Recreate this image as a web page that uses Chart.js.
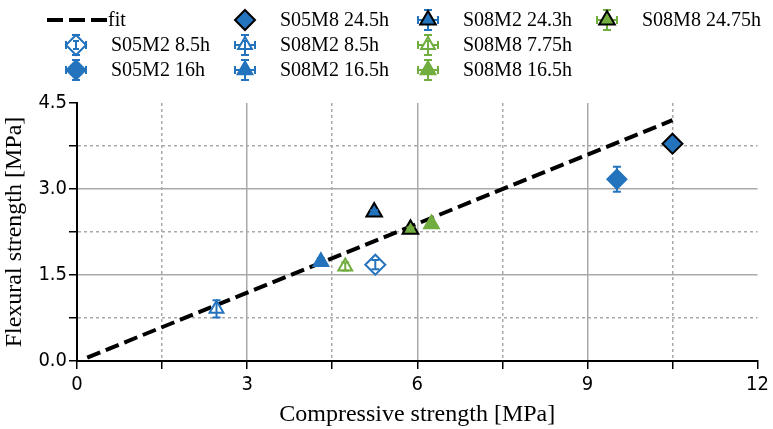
<!DOCTYPE html>
<html>
<head>
<meta charset="utf-8">
<script src="https://cdn.jsdelivr.net/npm/chart.js@4.4.1/dist/chart.umd.min.js"></script>
<style>
  html, body { margin: 0; padding: 0; background: #fff; }
  #wrap { width: 773px; height: 429px; }
</style>
</head>
<body>
<div id="wrap"><canvas id="chart" width="773" height="429"></canvas></div>
<script>
// data
const seriesLabels = ["S05M2 8.5h", "S05M2 16h", "S05M8 24.5h", "S08M2 8.5h", "S08M2 16.5h",
                      "S08M2 24.3h", "S08M8 7.75h", "S08M8 16.5h", "S08M8 24.75h"];
const compressive = [5.26, 9.52, 10.50, 2.46, 4.30, 5.24, 4.73, 6.25, 5.88];
const flexural = [1.68, 3.17, 3.79, 0.91, 1.73, 2.60, 1.65, 2.39, 2.30];
const flexuralErr = [0.08, 0.22, 0, 0.15, 0.06, 0.03, 0.07, 0.04, 0.03];
const fitX = [0.18, 10.5];
const fitY = [0.06, 4.2];
const xTickStep = 1.5, xLabelStep = 3, xMax = 12;
const yTickStep = 0.75, yLabelStep = 1.5, yMax = 4.5;

const BLUE = "#2473bd", GREEN = "#72ad3f";
const markers = [
    { shape: "rectRot", line: BLUE, fill: "#fff", r: 10, err: BLUE },
    { shape: "rectRot", line: BLUE, fill: BLUE, r: 9.5, err: BLUE },
    { shape: "rectRot", line: "#000", fill: BLUE, r: 10, err: BLUE },
    { shape: "triangle", line: BLUE, fill: "#fff", r: 8, err: BLUE },
    { shape: "triangle", line: BLUE, fill: BLUE, r: 8.5, err: BLUE },
    { shape: "triangle", line: "#000", fill: BLUE, r: 9, err: BLUE },
    { shape: "triangle", line: GREEN, fill: "#fff", r: 8, err: GREEN },
    { shape: "triangle", line: GREEN, fill: GREEN, r: 8.5, err: GREEN },
    { shape: "triangle", line: "#000", fill: GREEN, r: 9, err: GREEN },
];

const isMultiple = (v, step) => Math.abs(v / step - Math.round(v / step)) < 1e-6;

function markerPath(ctx, shape, x, y, r) {
    ctx.beginPath();
    if (shape === "rectRot") {
        ctx.moveTo(x, y - r); ctx.lineTo(x + r, y); ctx.lineTo(x, y + r); ctx.lineTo(x - r, y);
    } else {
        for (let k = 0; k < 3; k++) {
            const a = -Math.PI / 2 + k * 2 * Math.PI / 3;
            const px = x + Math.cos(a) * r, py = y + Math.sin(a) * r;
            k ? ctx.lineTo(px, py) : ctx.moveTo(px, py);
        }
    }
    ctx.closePath();
}

function errBar(ctx, x, y1, y2, cap) {
    ctx.beginPath();
    ctx.moveTo(x, y1); ctx.lineTo(x, y2);
    ctx.moveTo(x - cap, y1); ctx.lineTo(x + cap, y1);
    ctx.moveTo(x - cap, y2); ctx.lineTo(x + cap, y2);
    ctx.stroke();
}

const errorBars = {
    id: "errorBars",
    afterDatasetsDraw(chart) {
        const { ctx, scales: { x, y } } = chart;
        ctx.save();
        ctx.lineWidth = 2;
        seriesLabels.forEach((_, i) => {
            if (!flexuralErr[i]) return;
            const px = x.getPixelForValue(compressive[i]);
            ctx.strokeStyle = markers[i].err;
            errBar(ctx, px, y.getPixelForValue(flexural[i] + flexuralErr[i]),
                   y.getPixelForValue(flexural[i] - flexuralErr[i]), 4);
        });
        ctx.restore();
    }
};

const columnLegend = {
    id: "columnLegend",
    afterDraw(chart) {
        const ctx = chart.ctx;
        const colMarker = [76, 245, 428, 607];
        const rowY = [20, 45, 70];
        ctx.save();
        ctx.font = "20px 'Liberation Serif', 'Times New Roman', serif";
        ctx.textBaseline = "middle";
        ctx.fillStyle = "#000";
        // fit entry
        ctx.strokeStyle = "#000";
        ctx.lineWidth = 4;
        ctx.setLineDash([16, 6]);
        ctx.beginPath(); ctx.moveTo(47, rowY[0]); ctx.lineTo(107, rowY[0]); ctx.stroke();
        ctx.setLineDash([]);
        ctx.fillText("fit", 108, rowY[0] + 1);
        seriesLabels.forEach((label, i) => {
            const slot = i + 1;
            const cx = colMarker[Math.floor(slot / 3)], cy = rowY[slot % 3];
            const m = markers[i];
            if (flexuralErr[i]) {
                ctx.strokeStyle = m.err;
                ctx.lineWidth = 2;
                errBar(ctx, cx, cy - 10, cy + 10, 4);
                ctx.beginPath();
                ctx.moveTo(cx - 10, cy); ctx.lineTo(cx + 10, cy);
                ctx.moveTo(cx - 10, cy - 4); ctx.lineTo(cx - 10, cy + 4);
                ctx.moveTo(cx + 10, cy - 4); ctx.lineTo(cx + 10, cy + 4);
                ctx.stroke();
            }
            markerPath(ctx, m.shape, cx, cy, m.r);
            ctx.fillStyle = m.fill;
            ctx.fill();
            ctx.strokeStyle = m.line;
            ctx.lineWidth = 2;
            ctx.stroke();
            if (m.fill === "#fff" && flexuralErr[i]) {
                ctx.strokeStyle = m.err;
                errBar(ctx, cx, cy - 4, cy + 4, 3);
            }
            ctx.fillStyle = "#000";
            ctx.fillText(label, cx + 35, cy + 1);
        });
        ctx.restore();
    }
};

const pointSets = seriesLabels.map((label, i) => ({
    label,
    data: [{ x: compressive[i], y: flexural[i] }],
    showLine: false,
    pointStyle: markers[i].shape,
    pointRadius: markers[i].r,
    pointHoverRadius: markers[i].r,
    pointBackgroundColor: markers[i].fill,
    pointBorderColor: markers[i].line,
    pointBorderWidth: 2,
    order: 1,
}));

const gridColor = (ctx, max) => {
    const v = ctx.tick ? ctx.tick.value : 0;
    return (v === 0 || v === max) ? "rgba(0,0,0,0)" : "#a9a9a9";
};

const tickFont = { family: "'DejaVu Sans Condensed', 'DejaVu Sans'", size: 20 };
const titleFont = { family: "'Liberation Serif', 'Times New Roman', serif", size: 24 };

new Chart(document.getElementById("chart"), {
    type: "scatter",
    data: {
        datasets: [
            {
                label: "fit",
                data: fitX.map((x, i) => ({ x, y: fitY[i] })),
                showLine: true,
                borderColor: "#000",
                borderWidth: 4,
                borderDash: [14, 6],
                pointRadius: 0,
                order: 10,
            },
            ...pointSets,
        ],
    },
    options: {
        responsive: false,
        animation: false,
        layout: { padding: { top: 103, right: 11, left: 0, bottom: 0 } },
        plugins: { legend: { display: false }, tooltip: { enabled: false } },
        scales: {
            x: {
                type: "linear",
                min: 0, max: xMax,
                afterFit: (s) => { s.height = 68; },
                ticks: {
                    stepSize: xTickStep,
                    autoSkip: false,
                    maxRotation: 0,
                    padding: 4,
                    color: "#000",
                    font: tickFont,
                    callback: (v) => isMultiple(v, xLabelStep) ? String(v) : "",
                },
                grid: {
                    color: (c) => gridColor(c, xMax),
                    lineWidth: 1.5,
                    tickColor: "#000",
                    tickLength: 8,
                    tickWidth: 1.5,
                },
                border: {
                    color: "#000", width: 2,
                    dash: (c) => (c.tick && !isMultiple(c.tick.value, xLabelStep)) ? [3, 3] : [],
                },
                title: {
                    display: true,
                    text: "Compressive strength [MPa]",
                    color: "#000",
                    padding: { top: 0, bottom: 0 },
                    font: titleFont,
                },
            },
            y: {
                type: "linear",
                min: 0, max: yMax,
                afterFit: (s) => { s.width = 77; },
                ticks: {
                    stepSize: yTickStep,
                    autoSkip: false,
                    padding: 2,
                    color: "#000",
                    font: tickFont,
                    callback: (v) => isMultiple(v, yLabelStep) ? v.toFixed(1) : "",
                },
                grid: {
                    color: (c) => gridColor(c, yMax),
                    lineWidth: 1.5,
                    tickColor: "#000",
                    tickLength: 8,
                    tickWidth: 1.5,
                },
                border: {
                    color: "#000", width: 2,
                    dash: (c) => (c.tick && !isMultiple(c.tick.value, yLabelStep)) ? [3, 3] : [],
                },
                title: {
                    display: true,
                    text: "Flexural strength [MPa]",
                    color: "#000",
                    padding: { top: 0, bottom: 0 },
                    font: titleFont,
                },
            },
        },
    },
    plugins: [errorBars, columnLegend],
});
</script>
</body>
</html>
